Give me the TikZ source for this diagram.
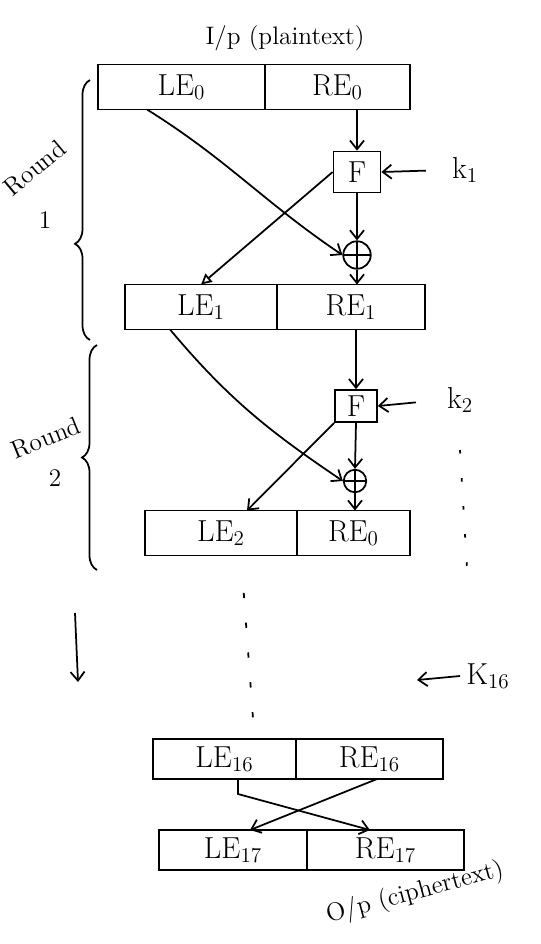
\documentclass[tikz,border=0pt]{standalone}
\usetikzlibrary{arrows.meta,decorations.pathreplacing}
\begin{document}
\begin{tikzpicture}[x=0.02cm, y=-0.02cm,
    half/.style={draw, line width=1pt, outer sep=0pt, minimum height=0.9cm, inner sep=2pt, font=\LARGE},
    fbox/.style={draw, line width=1pt, font=\LARGE, inner sep=0pt},
    xor/.style={draw, line width=1pt, circle, inner sep=0pt, minimum size=#1,
        path picture={\draw (path picture bounding box.north) -- (path picture bounding box.south)
            (path picture bounding box.west) -- (path picture bounding box.east);}},
    flow/.style={line width=1pt, -{Straight Barb[length=5pt,width=8pt]}},
    swap/.style={line width=1pt, -{Triangle[open,length=6pt,width=6pt]}},
    curly/.style={line width=1pt, decorate, decoration={brace, amplitude=0.3cm, aspect=#1}},
    note/.style={font=\Large}]

    \useasboundingbox (0,0) rectangle (541,944);

    \node[note] (inp) at (285,38) {I/p (plaintext)};

    % round 1
    \node[half, minimum width=3.34cm, anchor=east] (le0) at (265,87) {LE$_0$};
    \node[half, minimum width=2.9cm, anchor=west] (re0) at (265,87) {RE$_0$};
    \node[fbox, minimum width=0.94cm, minimum height=0.82cm] (f1) at (357,172) {F};
    \node[xor=0.55cm] (xor1) at (357,255) {};
    \node[font=\LARGE] (k1) at (465,170) {k$_1$};
    \node[half, minimum width=3.04cm, anchor=east] (le1) at (277,307) {LE$_1$};
    \node[half, minimum width=2.96cm, anchor=west] (re1) at (277,307) {RE$_1$};

    \draw[flow] (f1 |- re0.south) -- (f1.north);
    \draw[flow, shorten <=0.4cm] (k1.west) -- (f1.east);
    \draw[flow] (f1.south) -- (xor1.north);
    \draw[flow] ([xshift=-0.69cm]le0.south) to[out=-32, in=146] (xor1.west);
    \draw[swap] (f1.west) -- (le1.north);
    \draw[flow] (xor1.south) -- (xor1 |- re1.north);

    % round 2
    \node[fbox, minimum width=0.84cm, minimum height=0.64cm] (f2) at (356,406) {F};
    \node[xor=0.45cm] (xor2) at (355,481) {};
    \node[font=\LARGE] (k2) at (460,400) {k$_2$};
    \node[half, minimum width=3.04cm, anchor=east] (le2) at (297,533) {LE$_2$};
    \node[half, minimum width=2.26cm, anchor=west] (re2) at (297,533) {RE$_0$};

    \draw[flow] (f2 |- re1.south) -- (f2.north);
    \draw[flow, shorten <=0.5cm] (k2.west) -- (f2.east);
    \draw[flow] (f2.south) -- (xor2.north);
    \draw[flow] ([xshift=-0.62cm]le1.south) to[out=-50, in=146] (xor2.west);
    \draw[flow] (f2.south west) -- ([xshift=0.52cm]le2.north);
    \draw[flow] (xor2.south) -- (xor2 |- re2.north);

    % braces
    \draw[curly=0.37] (90,340) -- (90,80);
    \draw[curly=0.5] (97,570) -- (97,345);
    \node[note, rotate=40] (r1) at (35,168) {Round};
    \node[note] (r1n) at (45,220) {1};
    \node[note, rotate=22] (r2) at (46,438) {Round};
    \node[note] (r2n) at (55,478) {2};

    % rounds 3 to 16
    \node[font=\LARGE] (k16) at (488,676) {K$_{16}$};
    \coordinate (k16end) at (417,680);
    \draw[flow] (k16.west) -- (k16end);
    \draw[line width=1pt, dash pattern=on 2pt off 14pt] (460,450) -- (468,585);
    \coordinate (down1) at (75,613);
    \coordinate (down2) at (78,682);
    \draw[flow] (down1) -- (down2);

    \node[half, minimum width=2.86cm, minimum height=0.8cm, anchor=east] (le16) at (296,759) {LE$_{16}$};
    \node[half, minimum width=2.94cm, minimum height=0.8cm, anchor=west] (re16) at (296,759) {RE$_{16}$};
    \draw[line width=1pt, dash pattern=on 3pt off 14pt, shorten <=0.75cm, shorten >=0.2cm]
        ([xshift=0.4cm]le2.south) -- ([xshift=0.6cm]le16.north);

    % output
    \node[half, minimum width=2.96cm, minimum height=0.8cm, anchor=east] (le17) at (307,850) {LE$_{17}$};
    \node[half, minimum width=3.14cm, minimum height=0.8cm, anchor=west] (re17) at (307,850) {RE$_{17}$};
    \draw[flow] ([xshift=0.27cm]le16.south) -- ++(0,15) -- ([xshift=-0.31cm]re17.north);
    \draw[flow] ([xshift=0.15cm]re16.south) -- ([xshift=0.34cm]le17.north);

    \node[note, rotate=15] (outp) at (415,893) {O/p (ciphertext)};
\end{tikzpicture}
\end{document}
